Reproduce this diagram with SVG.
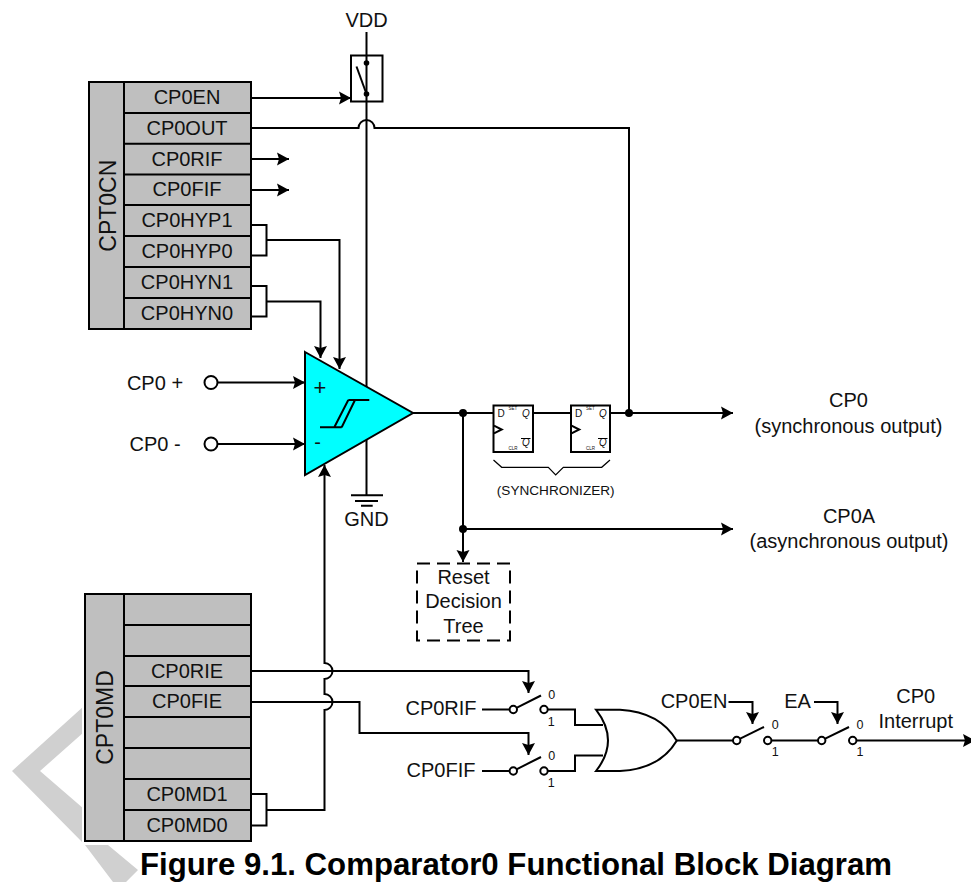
<svg xmlns="http://www.w3.org/2000/svg" width="971" height="882" viewBox="0 0 971 882">
<style>
text{font-family:"Liberation Sans",Arial,sans-serif;font-size:20px;fill:#111;text-anchor:middle}
.c{fill:none;stroke:#000;stroke-width:2}
.b{fill:#bfbfbf;stroke:#000;stroke-width:2}
.d{fill:#000}
.o{fill:#fff;stroke:#000;stroke-width:2}
.s{font-size:12.5px}
.t{font-size:4.5px}
.f{font-size:10px}
</style>
<defs>
<marker id="a" markerUnits="userSpaceOnUse" markerWidth="12" markerHeight="14" refX="12" refY="7" orient="auto"><path d="M0,0.500 L12,7 L0,13.500 L2,7 Z" fill="#000"/></marker>
</defs>
<rect width="971" height="882" fill="#fff"/>
<polygon id="watermark" points="12,771 84,706 84,732 40,771 84,809 108,845 138,870 126,882 113,882 85,845" fill="#d0d0d0"/>
<rect x="82" y="590" width="174" height="255" fill="#fff"/>
<g id="connectors">
<path class="c" d="M366.500,32V495"/>
<path class="c" d="M251,98H351" marker-end="url(#a)"/>
<path class="c" d="M251,128H358.500A8,8 0 0 1 374.500,128H629V413"/>
<path class="c" d="M251,159H289" marker-end="url(#a)"/>
<path class="c" d="M251,190H289" marker-end="url(#a)"/>
<path class="c" d="M251,225H266.500V255.500H251M266.500,240H339.500V369" marker-end="url(#a)"/>
<path class="c" d="M251,286H266.500V316.500H251M266.500,301.500H320.500V358" marker-end="url(#a)"/>
<path class="c" d="M218,382.500H305" marker-end="url(#a)"/>
<path class="c" d="M218,444H305" marker-end="url(#a)"/>
<path class="c" d="M251,794H266.500V825.500H251M266.500,810H324.500V710A8,8 0 0 0 324.500,694V679A8,8 0 0 0 324.500,663V465" marker-end="url(#a)"/>
<path class="c" d="M413,413H733" marker-end="url(#a)"/>
<path class="c" d="M463,413V562" marker-end="url(#a)"/>
<path class="c" d="M463,529H733" marker-end="url(#a)"/>
<path class="c" d="M251,671H528.500V693" marker-end="url(#a)"/>
<path class="c" d="M251,702H359.500V733H528.500V755" marker-end="url(#a)"/>
<path class="c" d="M482,709.500H509.500M547.500,709.500H575V725H603"/>
<path class="c" d="M482,771H509.500M547.500,771H575V755.500H603"/>
<path class="c" d="M677,740.500H733M771.500,740.500H818M856.500,740.500H975" marker-end="url(#a)"/>
<path class="c" d="M728.500,702H752.500V724" marker-end="url(#a)"/>
<path class="c" d="M814,702H837.500V724" marker-end="url(#a)"/>
<path class="c" d="M493.500,460L501.700,467.300H548.300L555.700,475L563.300,467.300H601.700L610,460" style="stroke-width:1.200"/>
</g>
<g id="CPT0CN">
<rect class="b" x="89" y="82" width="162" height="247"/>
<path class="c" d="M124,82V329M124,113H251M124,143.700H251M124,174.600H251M124,205H251M124,236H251M124,267H251M124,298H251"/>
<text x="115.700" y="205.700" style="font-size:23px" transform="rotate(-90 115.700 205.700)">CPT0CN</text>
<text x="187" y="104">CP0EN</text>
<text x="187" y="134.700">CP0OUT</text>
<text x="187" y="165.700">CP0RIF</text>
<text x="187" y="196">CP0FIF</text>
<text x="187" y="226.700">CP0HYP1</text>
<text x="187" y="258.300">CP0HYP0</text>
<text x="187" y="289.300">CP0HYN1</text>
<text x="187" y="320">CP0HYN0</text>
</g>
<g id="CPT0MD">
<rect class="b" x="85" y="594" width="166" height="247"/>
<path class="c" d="M124,594V841M124,625H251M124,656H251M124,686H251M124,717H251M124,748H251M124,779H251M124,810H251"/>
<text x="113" y="717.500" style="font-size:23px" transform="rotate(-90 113 717.500)">CPT0MD</text>
<text x="187" y="677.700">CP0RIE</text>
<text x="187" y="707.700">CP0FIE</text>
<text x="187" y="801">CP0MD1</text>
<text x="187" y="831.700">CP0MD0</text>
</g>
<g id="vdd-switch">
<text x="366.500" y="27">VDD</text>
<rect x="351" y="55.500" width="31.500" height="46" fill="none" stroke="#000" stroke-width="2"/>
<circle class="d" cx="366.500" cy="63" r="2.800"/>
<circle class="d" cx="366.500" cy="94" r="2.800"/>
<path class="c" d="M356.500,66.500L366.500,94"/>
</g>
<g id="inputs">
<text x="155" y="390">CP0 +</text>
<circle class="o" cx="211" cy="382.500" r="6.500"/>
<text x="155" y="451">CP0 -</text>
<circle class="o" cx="211" cy="444" r="6.500"/>
</g>
<g id="comparator">
<polygon points="305,352 413,413 305,475" fill="#00ffff" stroke="#000" stroke-width="2"/>
<path class="c" d="M320,427.300H341.700M334.300,427.300L348.300,400M341.700,427.300L355,400M348.300,400H369.300"/>
<text x="320" y="394.500" style="font-size:22px">+</text>
<text x="317.500" y="449" style="font-size:20px">-</text>
</g>
<g id="gnd">
<path class="c" d="M351,495.300H383M355,501H378M361,505.700H372.700"/>
<text x="366.500" y="525.700">GND</text>
</g>
<g id="junctions">
<circle class="d" cx="463" cy="413" r="4"/>
<circle class="d" cx="629" cy="413" r="4"/>
<circle class="d" cx="463" cy="529" r="4"/>
</g>
<g id="ff1">
<rect class="o" x="493.500" y="405.500" width="39.500" height="46.500"/>
<path class="c" d="M494,425.700L501.700,429.500L494,433.300"/>
<text class="f" x="501" y="416.500">D</text>
<text class="f" x="526" y="416.500" font-style="italic">Q</text>
<text class="f" x="526" y="446" font-style="italic">Q</text>
<path d="M521,438.500H530.500" stroke="#000" stroke-width="1"/>
<text class="t" x="513" y="409.500">SET</text>
<text class="t" x="513" y="450">CLR</text>
</g>
<g id="ff2">
<rect class="o" x="571" y="405.500" width="39" height="46.500"/>
<path class="c" d="M571.500,425.700L579.200,429.500L571.500,433.300"/>
<text class="f" x="578.500" y="416.500">D</text>
<text class="f" x="603" y="416.500" font-style="italic">Q</text>
<text class="f" x="603" y="446" font-style="italic">Q</text>
<path d="M598,438.500H607.500" stroke="#000" stroke-width="1"/>
<text class="t" x="590.500" y="409.500">SET</text>
<text class="t" x="590.500" y="450">CLR</text>
</g>
<text x="555.700" y="495" style="font-size:13.600px">(SYNCHRONIZER)</text>
<text x="848.500" y="407">CP0</text>
<text x="848.500" y="433">(synchronous output)</text>
<text x="849" y="523">CP0A</text>
<text x="849" y="548">(asynchronous output)</text>
<g id="reset">
<rect x="417" y="563.500" width="93" height="77" fill="none" stroke="#000" stroke-width="2" stroke-dasharray="13 7"/>
<text x="463.500" y="584.300">Reset</text>
<text x="463.500" y="608">Decision</text>
<text x="463.500" y="632.700">Tree</text>
</g>
<g id="sw-rif">
<text x="441" y="715">CP0RIF</text>
<circle class="o" cx="513.300" cy="709.500" r="3.700"/>
<circle class="o" cx="544" cy="709.500" r="3.700"/>
<path class="c" d="M516.500,707.800L541,695.500"/>
<text class="s" x="551.700" y="699.300">0</text>
<text class="s" x="551.200" y="725.700">1</text>
</g>
<g id="sw-fif">
<text x="441" y="776.700">CP0FIF</text>
<circle class="o" cx="513.300" cy="771" r="3.700"/>
<circle class="o" cx="544" cy="771" r="3.700"/>
<path class="c" d="M516.500,769.300L541,757"/>
<text class="s" x="551.700" y="760">0</text>
<text class="s" x="551.200" y="786.700">1</text>
</g>
<g id="or-gate">
<path fill="#fff" stroke="#000" stroke-width="2" d="M596,709.700L620,709.700Q660,712 676.700,740.700Q660,769 620,771L596,771Q620,740.700 596,709.700Z"/>
</g>
<g id="sw-en">
<text x="694" y="708">CP0EN</text>
<circle class="o" cx="736.700" cy="740.500" r="3.700"/>
<circle class="o" cx="767.700" cy="740.500" r="3.700"/>
<path class="c" d="M739.700,738.800L764,727"/>
<text class="s" x="775.300" y="729.300">0</text>
<text class="s" x="775.300" y="756">1</text>
</g>
<g id="sw-ea">
<text x="797.500" y="708">EA</text>
<circle class="o" cx="821.700" cy="740.500" r="3.700"/>
<circle class="o" cx="852.700" cy="740.500" r="3.700"/>
<path class="c" d="M824.700,738.800L849,727"/>
<text class="s" x="860" y="729.300">0</text>
<text class="s" x="860" y="756">1</text>
</g>
<text x="915.700" y="703">CP0</text>
<text x="915.700" y="728.300">Interrupt</text>
<text x="516" y="875" font-weight="bold" style="font-size:31.200px;fill:#000">Figure 9.1. Comparator0 Functional Block Diagram</text>
</svg>
